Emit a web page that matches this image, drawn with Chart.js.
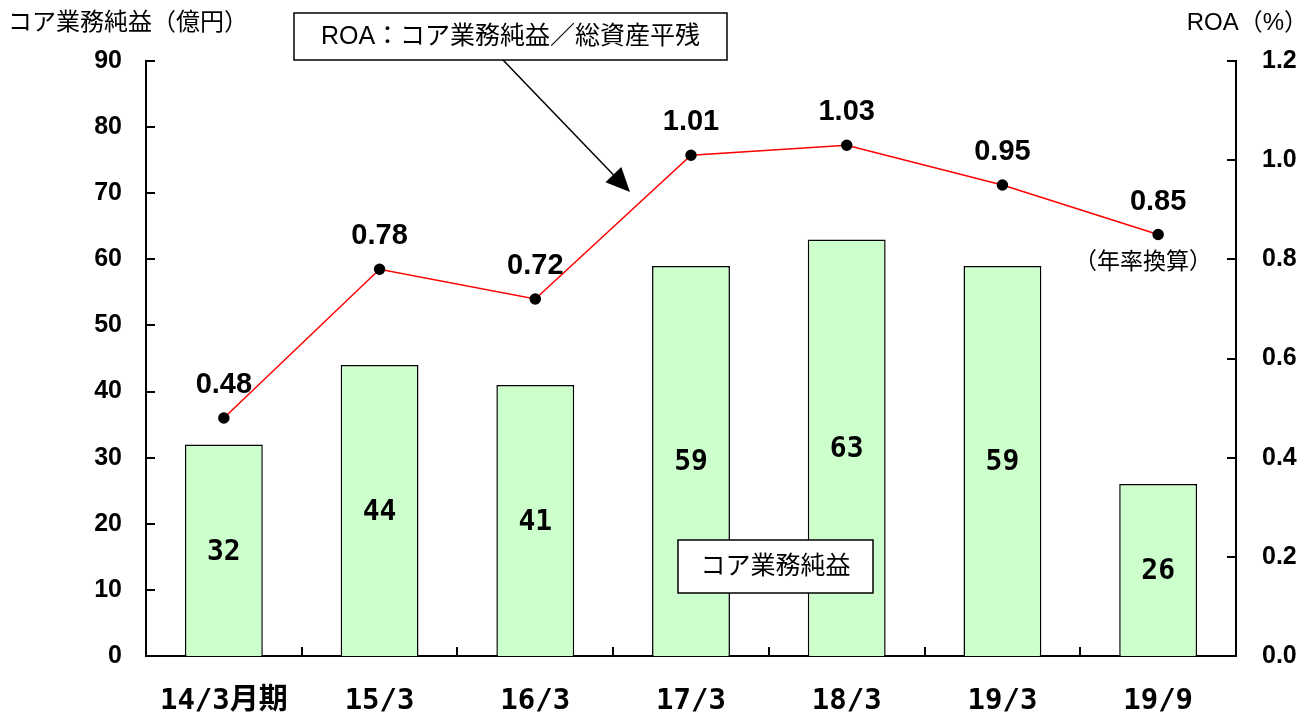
<!DOCTYPE html>
<html>
<head>
<meta charset="utf-8">
<script src="https://cdn.jsdelivr.net/npm/chart.js@4.4.1/dist/chart.umd.min.js"></script>
<style>
  html, body { margin: 0; padding: 0; background: #fff; }
  canvas { display: block; }
</style>
</head>
<body>
<canvas id="chart" width="1304" height="712"></canvas>
<script>
// ── Data ─────────────────────────────────────────────────────────────────────
const categories = ['14/3月期', '15/3', '16/3', '17/3', '18/3', '19/3', '19/9'];
const coreProfit = [32, 44, 41, 59, 63, 59, 26];          // 億円
const roa        = [0.48, 0.78, 0.72, 1.01, 1.03, 0.95, 0.85]; // %

const CJK  = "'Noto Sans CJK JP'";
const MONO = "'DejaVu Sans Mono', " + CJK;
const SANS = "'Liberation Sans', Arial, " + CJK;

// ── Plugins ──────────────────────────────────────────────────────────────────

// tick marks pointing into the plot area
const innerTicks = {
    id: 'innerTicks',
    afterDraw(chart) {
        const { ctx, chartArea: a, scales: { x, y, y1 } } = chart;
        ctx.save();
        ctx.strokeStyle = '#000';
        ctx.lineWidth = 2;
        ctx.beginPath();
        y.ticks.forEach(t => {
            const py = Math.round(y.getPixelForValue(t.value));
            ctx.moveTo(a.left, py); ctx.lineTo(a.left + 9, py);
        });
        y1.ticks.forEach(t => {
            const py = Math.round(y1.getPixelForValue(t.value));
            ctx.moveTo(a.right - 9, py); ctx.lineTo(a.right, py);
        });
        const w = x.getPixelForValue(1) - x.getPixelForValue(0);
        for (let i = 1; i < categories.length; i++) {
            const px = Math.round(x.getPixelForValue(i) - w / 2);
            ctx.moveTo(px, a.bottom); ctx.lineTo(px, a.bottom - 9);
        }
        ctx.stroke();
        ctx.restore();
    }
};

// value labels on bars and above line points
const valueLabels = {
    id: 'valueLabels',
    afterDatasetsDraw(chart) {
        const { ctx } = chart;
        ctx.save();
        ctx.fillStyle = '#000';
        ctx.textAlign = 'center';
        ctx.textBaseline = 'middle';

        ctx.font = 'bold 28px ' + MONO;
        chart.getDatasetMeta(0).data.forEach((el, i) => {
            ctx.fillText(String(coreProfit[i]), el.x, (el.y + el.base) / 2 + 2);
        });

        ctx.font = 'bold 29px ' + SANS;
        chart.getDatasetMeta(1).data.forEach((el, i) => {
            ctx.fillText(roa[i].toFixed(2), el.x, el.y - 33);
        });
        ctx.restore();
    }
};

// axis titles, callout boxes, arrow
const annotations = {
    id: 'annotations',
    afterDraw(chart) {
        const { ctx } = chart;
        ctx.save();
        ctx.fillStyle = '#000';
        ctx.textBaseline = 'middle';

        ctx.font = '24px ' + SANS;
        ctx.textAlign = 'left';
        ctx.fillText('コア業務純益（億円）', 8, 23);
        ctx.textAlign = 'right';
        ctx.fillText('ROA（%）', 1308, 23);

        const box = (x0, y0, w, h, text, size) => {
            ctx.fillStyle = '#fff';
            ctx.fillRect(x0, y0, w, h);
            ctx.strokeStyle = '#000';
            ctx.lineWidth = 1.5;
            ctx.strokeRect(x0, y0, w, h);
            ctx.fillStyle = '#000';
            ctx.font = size + 'px ' + SANS;
            ctx.textAlign = 'center';
            ctx.fillText(text, x0 + w / 2, y0 + h / 2 + 1);
        };
        box(294, 13, 433, 47, 'ROA：コア業務純益／総資産平残', 25);
        box(678, 540, 195, 53, 'コア業務純益', 25);

        // arrow from the ROA box to the line
        const x0 = 503, y0 = 60, x1 = 630, y1 = 192;
        const ang = Math.atan2(y1 - y0, x1 - x0);
        const hl = 24, hw = 11;
        const bx = x1 - hl * Math.cos(ang), by = y1 - hl * Math.sin(ang);
        ctx.strokeStyle = '#000';
        ctx.lineWidth = 1.5;
        ctx.beginPath();
        ctx.moveTo(x0, y0); ctx.lineTo(bx, by);
        ctx.stroke();
        ctx.beginPath();
        ctx.moveTo(x1, y1);
        ctx.lineTo(bx + hw * Math.sin(ang), by - hw * Math.cos(ang));
        ctx.lineTo(bx - hw * Math.sin(ang), by + hw * Math.cos(ang));
        ctx.closePath();
        ctx.fill();

        ctx.font = '23px ' + SANS;
        ctx.textAlign = 'center';
        ctx.fillText('（年率換算）', 1143, 263);
        ctx.restore();
    }
};

// ── Chart ────────────────────────────────────────────────────────────────────

new Chart(document.getElementById('chart'), {
    data: {
        labels: categories,
        datasets: [
            {
                type: 'bar',
                label: 'コア業務純益',
                data: coreProfit,
                yAxisID: 'y',
                backgroundColor: '#CCFFCC',
                borderColor: '#000',
                borderWidth: 1.5,
                barPercentage: 0.5,
                categoryPercentage: 1.0,
                order: 2,
            },
            {
                type: 'line',
                label: 'ROA',
                data: roa,
                yAxisID: 'y1',
                borderColor: '#FF0000',
                borderWidth: 1.5,
                tension: 0,
                pointRadius: 5,
                pointBackgroundColor: '#000',
                pointBorderColor: '#000',
                fill: false,
                order: 1,
            },
        ],
    },
    options: {
        responsive: false,
        animation: false,
        layout: { padding: { top: 61, left: 0, right: 0, bottom: 0 } },
        plugins: {
            legend: { display: false },
            tooltip: { enabled: false },
        },
        scales: {
            x: {
                offset: true,
                grid: { display: false, drawTicks: false },
                border: { color: '#000', width: 2 },
                ticks: {
                    color: '#000',
                    padding: 28,
                    maxRotation: 0,
                    font: { family: MONO, size: 29, weight: 'bold' },
                },
                afterFit: s => { s.height = 56; },
            },
            y: {
                position: 'left',
                min: 0,
                max: 90,
                grid: { display: false, drawTicks: false },
                border: { color: '#000', width: 2 },
                ticks: {
                    stepSize: 10,
                    color: '#000',
                    padding: 24,
                    font: { family: SANS, size: 25, weight: 'bold' },
                },
                afterFit: s => { s.width = 146; },
            },
            y1: {
                position: 'right',
                min: 0,
                max: 1.2,
                grid: { display: false, drawTicks: false },
                border: { color: '#000', width: 2 },
                ticks: {
                    stepSize: 0.2,
                    color: '#000',
                    padding: 26,
                    font: { family: SANS, size: 25, weight: 'bold' },
                    callback: v => Number(v).toFixed(1),
                },
                afterFit: s => { s.width = 68; },
            },
        },
    },
    plugins: [innerTicks, valueLabels, annotations],
});
</script>
</body>
</html>
